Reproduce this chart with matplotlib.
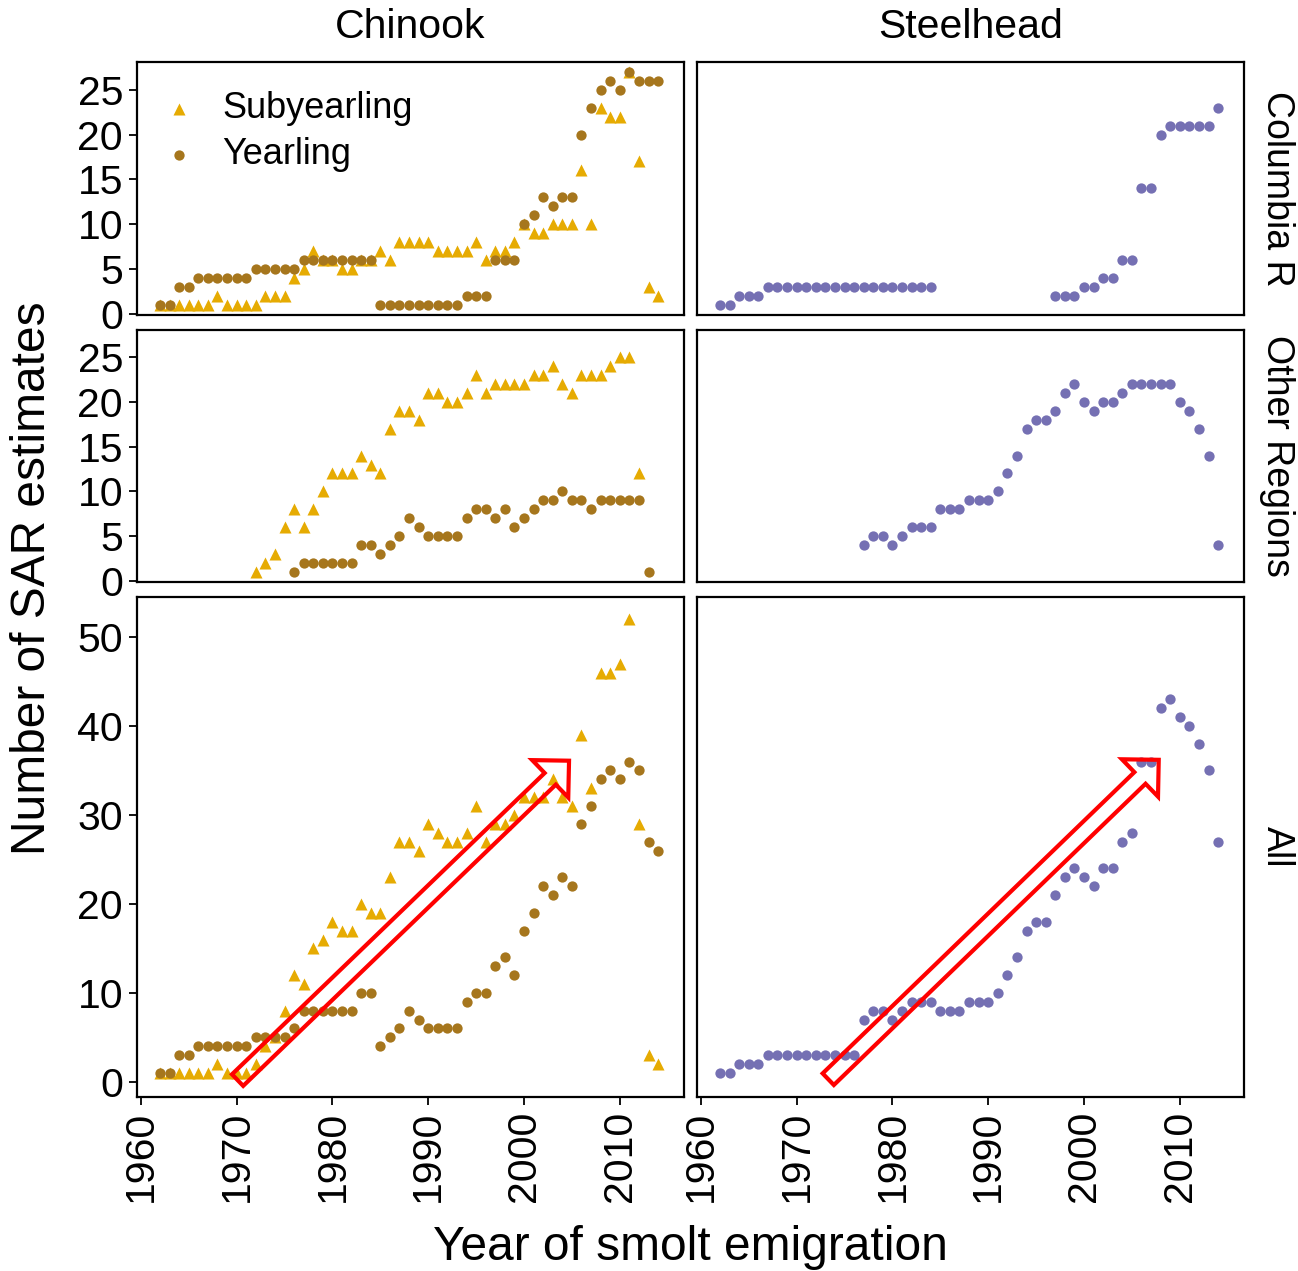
import numpy as np
import matplotlib.pyplot as plt

nan = np.nan
years = np.arange(1962, 2015)

# Chinook, Columbia R
cr_sub = [1, 1, 1, 1, 1, 1, 2, 1, 1, 1,
          1, 2, 2, 2, 4, 5, 7, 6, 6, 5,
          5, 6, 6, 7, 6, 8, 8, 8, 8, 7,
          7, 7, 7, 8, 6, 7, 7, 8, 10, 9,
          9, 10, 10, 10, 16, 10, 23, 22, 22, 27,
          17, 3, 2]
cr_yr = [1, 1, 3, 3, 4, 4, 4, 4, 4, 4,
         5, 5, 5, 5, 5, 6, 6, 6, 6, 6,
         6, 6, 6, 1, 1, 1, 1, 1, 1, 1,
         1, 1, 2, 2, 2, 6, 6, 6, 10, 11,
         13, 12, 13, 13, 20, 23, 25, 26, 25, 27,
         26, 26, 26]
# Chinook, Other Regions
ot_sub = [nan, nan, nan, nan, nan, nan, nan, nan, nan, nan,
          1, 2, 3, 6, 8, 6, 8, 10, 12, 12,
          12, 14, 13, 12, 17, 19, 19, 18, 21, 21,
          20, 20, 21, 23, 21, 22, 22, 22, 22, 23,
          23, 24, 22, 21, 23, 23, 23, 24, 25, 25,
          12, nan, nan]
ot_yr = [nan, nan, nan, nan, nan, nan, nan, nan, nan, nan,
         nan, nan, nan, nan, 1, 2, 2, 2, 2, 2,
         2, 4, 4, 3, 4, 5, 7, 6, 5, 5,
         5, 5, 7, 8, 8, 7, 8, 6, 7, 8,
         9, 9, 10, 9, 9, 8, 9, 9, 9, 9,
         9, 1, nan]
# Chinook, All
all_sub = [1, 1, 1, 1, 1, 1, 2, 1, 1, 1,
           2, 4, 5, 8, 12, 11, 15, 16, 18, 17,
           17, 20, 19, 19, 23, 27, 27, 26, 29, 28,
           27, 27, 28, 31, 27, 29, 29, 30, 32, 32,
           32, 34, 32, 31, 39, 33, 46, 46, 47, 52,
           29, 3, 2]
all_yr = [1, 1, 3, 3, 4, 4, 4, 4, 4, 4,
          5, 5, 5, 5, 6, 8, 8, 8, 8, 8,
          8, 10, 10, 4, 5, 6, 8, 7, 6, 6,
          6, 6, 9, 10, 10, 13, 14, 12, 17, 19,
          22, 21, 23, 22, 29, 31, 34, 35, 34, 36,
          35, 27, 26]
# Steelhead
sh_cr = [1, 1, 2, 2, 2, 3, 3, 3, 3, 3,
         3, 3, 3, 3, 3, 3, 3, 3, 3, 3,
         3, 3, 3, nan, nan, nan, nan, nan, nan, nan,
         nan, nan, nan, nan, nan, 2, 2, 2, 3, 3,
         4, 4, 6, 6, 14, 14, 20, 21, 21, 21,
         21, 21, 23]
sh_ot = [nan, nan, nan, nan, nan, nan, nan, nan, nan, nan,
         nan, nan, nan, nan, nan, 4, 5, 5, 4, 5,
         6, 6, 6, 8, 8, 8, 9, 9, 9, 10,
         12, 14, 17, 18, 18, 19, 21, 22, 20, 19,
         20, 20, 21, 22, 22, 22, 22, 22, 20, 19,
         17, 14, 4]
sh_all = [1, 1, 2, 2, 2, 3, 3, 3, 3, 3,
          3, 3, 3, 3, 3, 7, 8, 8, 7, 8,
          9, 9, 9, 8, 8, 8, 9, 9, 9, 10,
          12, 14, 17, 18, 18, 21, 23, 24, 23, 22,
          24, 24, 27, 28, 36, 36, 42, 43, 41, 40,
          38, 35, 27]

col_titles = ['Chinook', 'Steelhead']
row_titles = ['Columbia R', 'Other Regions', 'All']

plt.rcParams['font.family'] = ['Liberation Sans', 'DejaVu Sans']

c_sub = '#E6AB02'
c_yr = '#A6761D'
c_sh = '#7570B3'

W, H = 1298, 1271
fig = plt.figure(figsize=(W / 100, H / 100), dpi=100)

col_x = [137, 697]
col_w = 547
rows = [(62, 315), (330, 582), (597, 1097)]
ylims = [(-0.15, 28.1), (-0.1, 28.0), (-1.7, 54.5)]
yticks = [range(0, 26, 5), range(0, 26, 5), range(0, 51, 10)]

chinook = [(cr_sub, cr_yr), (ot_sub, ot_yr), (all_sub, all_yr)]
steel = [sh_cr, sh_ot, sh_all]

axes = {}
for r, (top, bot) in enumerate(rows):
    for c in range(2):
        ax = fig.add_axes([col_x[c] / W, 1 - bot / H, col_w / W, (bot - top) / H])
        axes[(r, c)] = ax
        ax.set_xlim(1959.6, 2016.7)
        ax.set_ylim(*ylims[r])
        for s in ax.spines.values():
            s.set_linewidth(1.6)
        ax.tick_params(length=6, width=1.3, labelsize=29.5, pad=4)
        ax.set_xticks(range(1960, 2011, 10))
        if r == 2:
            ax.tick_params(axis='x', labelrotation=90)
        else:
            ax.tick_params(axis='x', length=0, labelbottom=False)
        if c == 0:
            ax.set_yticks(list(yticks[r]))
        else:
            ax.set_yticks([])
        if c == 0:
            sub, yr = chinook[r]
            ax.scatter(years, sub, marker='^', s=75, color=c_sub, lw=0,
                       label='Subyearling', zorder=2)
            ax.scatter(years, yr, marker='o', s=55, color=c_yr, lw=0,
                       label='Yearling', zorder=3)
        else:
            ax.scatter(years, steel[r], marker='o', s=55, color=c_sh, lw=0, zorder=2)

leg = axes[(0, 0)].legend(loc='upper left', bbox_to_anchor=(0.004, 0.955),
                          frameon=False, fontsize=26, handletextpad=0.6,
                          labelspacing=0.3, borderpad=0, handlelength=1.2)

# red arrows
arrow_style = 'simple,head_length=0.94,head_width=1.87,tail_width=0.58'
for c, (tail, head) in enumerate([((1970.1, 0.2), (2004.7, 36.1)),
                                   ((1973.3, 0.3), (2007.8, 36.2))]):
    axes[(2, c)].annotate('', xy=head, xytext=tail,
                          arrowprops=dict(arrowstyle=arrow_style, fc='none',
                                          ec='red', lw=3, shrinkA=0, shrinkB=0,
                                          mutation_scale=20, joinstyle='miter'),
                          zorder=5)

for c, t in enumerate(col_titles):
    fig.text((col_x[c] + col_w / 2) / W, 1 - 27 / H, t, ha='center', va='center',
             fontsize=29.5)
for r, t in enumerate(row_titles):
    top, bot = rows[r]
    fig.text(1277 / W, 1 - (top + bot) / 2 / H, t, ha='center', va='center',
             rotation=-90, fontsize=27)

fig.text(690 / W, 1 - 1248 / H, 'Year of smolt emigration', ha='center',
         va='center', fontsize=34.5)
fig.text(33 / W, 1 - 578 / H, 'Number of SAR estimates', ha='center',
         va='center', rotation=90, fontsize=34.5)

fig.savefig('out.png', dpi=100)
